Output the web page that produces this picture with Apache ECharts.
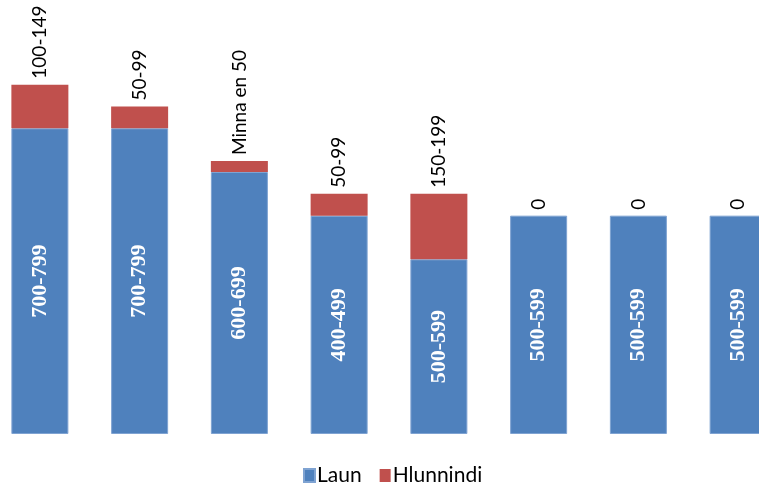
<!DOCTYPE html>
<html>
<head>
<meta charset="utf-8">
<script src="https://cdn.jsdelivr.net/npm/echarts@6/dist/echarts.min.js"></script>
<style>html,body{margin:0;padding:0;background:#fff;overflow:hidden;width:759px;height:491px}#c{width:798px;height:491px;margin-left:-10px}</style>
</head>
<body>
<div id="c"></div>
<script>
const categories = ['1','2','3','4','5','6','7','8'];
const launValues = [7, 7, 6, 5, 4, 5, 5, 5];
const hlunnindiValues = [1, 0.5, 0.25, 0.5, 1.5, 0, 0, 0];
const launLabels = ['700-799','700-799','600-699','400-499','500-599','500-599','500-599','500-599'];
const hlunnindiLabels = ['100-149','50-99','Minna en 50','50-99','150-199','0','0','0'];

const chart = echarts.init(document.getElementById('c'));
chart.setOption({
  animation: false,
  backgroundColor: '#fff',
  grid: { left: 0, right: 0, top: 41, bottom: 57, containLabel: false },
  xAxis: { type: 'category', data: categories, show: false },
  yAxis: { type: 'value', min: 0, max: 9, show: false },
  legend: {
    bottom: 0, left: 308,
    itemWidth: 11, itemHeight: 13, itemGap: 18,
    icon: 'rect',
    textStyle: { fontFamily: 'Lato', fontSize: 21, color: '#000', padding: [0,0,0,-3] },
    data: ['Laun', 'Hlunnindi']
  },
  series: [
    {
      name: 'Laun', type: 'bar', stack: 's', data: launValues, barWidth: 57,
      itemStyle: { color: '#4F81BD', borderColor: '#7FA3D2', borderWidth: 1 },
      label: {
        show: true, position: 'inside', rotate: 90,
        formatter: p => launLabels[p.dataIndex],
        color: '#fff', fontFamily: 'Liberation Serif', fontWeight: 'bold', fontSize: 22
      }
    },
    {
      name: 'Hlunnindi', type: 'bar', stack: 's', data: hlunnindiValues, barWidth: 57,
      itemStyle: { color: '#C0504D', borderWidth: 0 },
      label: {
        show: true, position: 'top', rotate: 90, align: 'left', verticalAlign: 'middle',
        distance: 6,
        formatter: p => hlunnindiLabels[p.dataIndex],
        color: '#000', fontFamily: 'Lato', fontSize: 19
      }
    }
  ]
});
</script>
</body>
</html>
